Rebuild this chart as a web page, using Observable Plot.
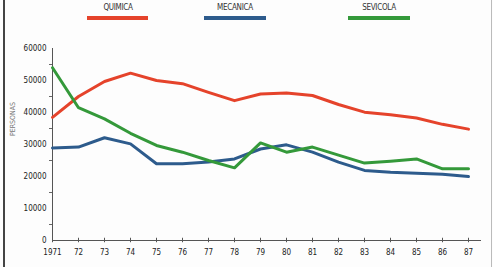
<!DOCTYPE html>
<html>
<head>
<meta charset="utf-8">
<script src="https://cdn.jsdelivr.net/npm/d3@7"></script>
<script src="https://cdn.jsdelivr.net/npm/@observablehq/plot@0.6"></script>
<style>
  body { margin: 0; background: #fff; }
  #wrap { position: relative; width: 493px; height: 267px; overflow: hidden; background: #fdfdfd; }
  #legend { position: relative; height: 30px; width: 493px; font-family: "Liberation Sans Narrow", "DejaVu Sans Condensed", sans-serif; font-size: 8px; color: #333; }
  .lab { position: absolute; top: 3px; transform: translateX(-50%); letter-spacing: -0.3px; }
  .sw { position: absolute; top: 16px; height: 4px; }
  #borderL { position: absolute; left: 3px; top: 0; width: 2px; height: 267px; background: #444; }
  #borderR { position: absolute; left: 491px; top: 0; width: 1px; height: 267px; background: #bbb; }
  #ylab { position: absolute; left: 13px; top: 119px; transform: translate(-50%, -50%) rotate(-90deg); font-family: "Liberation Sans Narrow", "DejaVu Sans Condensed", sans-serif; font-size: 7px; color: #777; white-space: nowrap; }
</style>
</head>
<body>
<div id="wrap">
  <div id="legend"></div>
  <div id="chart"></div>
  <div id="ylab">PERSONAS</div>
  <div id="borderL"></div>
  <div id="borderR"></div>
</div>
<script>
const years = [1971,1972,1973,1974,1975,1976,1977,1978,1979,1980,1981,1982,1983,1984,1985,1986,1987];
const yearLabels = ["1971","72","73","74","75","76","77","78","79","80","81","82","83","84","85","86","87"];
const quimica  = [38500,45000,49700,52300,50000,49000,46300,43700,45800,46100,45300,42500,40100,39300,38300,36300,34800];
const mecanica = [28900,29200,32100,30200,24000,24000,24500,25500,28600,29900,27600,24500,21900,21300,21000,20700,20000];
const sevicola = [54000,41500,38000,33500,29700,27600,25000,22700,30500,27600,29200,26700,24200,24800,25500,22400,22400];
const seriesNames = ["QUIMICA","MECANICA","SEVICOLA"];
const seriesColors = ["#e5432b","#2d5b8c","#34993a"];
const yTicks = [0,10000,20000,30000,40000,50000,60000];
const yMinor = [5000,15000,25000,35000,45000,55000];

const rows = [];
[quimica, mecanica, sevicola].forEach((arr, s) => {
  arr.forEach((v, i) => rows.push({year: years[i], value: v, serie: seriesNames[s]}));
});

// Legend
const legend = document.getElementById("legend");
const legendPos = [[118, 87, 61], [235, 204, 62], [379, 348, 62]];
seriesNames.forEach((n, i) => {
  const l = document.createElement("div");
  l.className = "lab"; l.style.left = legendPos[i][0] + "px"; l.textContent = n;
  legend.appendChild(l);
  const s = document.createElement("div");
  s.className = "sw"; s.style.left = legendPos[i][1] + "px"; s.style.width = legendPos[i][2] + "px";
  s.style.background = seriesColors[i];
  legend.appendChild(s);
});

const chart = Plot.plot({
  width: 493,
  height: 237,
  marginLeft: 52,
  marginRight: 25,
  marginTop: 18,
  marginBottom: 27,
  style: {fontFamily: "'Liberation Sans Narrow', 'DejaVu Sans Condensed', sans-serif", fontSize: "8px", color: "#222", background: "transparent"},
  x: {domain: [1971, 1987], label: null},
  y: {domain: [0, 60000], label: null},
  color: {domain: seriesNames, range: seriesColors},
  marks: [
    Plot.ruleY([0], {stroke: "#555", strokeWidth: 1, insetRight: -13}),
    Plot.ruleX([1971], {y1: 0, y2: 60000, stroke: "#555", strokeWidth: 1}),
    Plot.axisX(years, {tickSize: 0, tickPadding: 9, tickFormat: (d, i) => yearLabels[i], fill: "#222", label: null}),
    Plot.ruleX(years, {x: d => d, y1: () => -700, y2: () => 700, stroke: "#555"}),
    Plot.axisY(yTicks, {tickSize: 0, tickPadding: 6, tickFormat: d => String(d), fill: "#222", label: null}),
    Plot.axisY(yMinor, {tickSize: 3, tickFormat: () => "", stroke: "#666", label: null}),
    Plot.line(rows, {x: "year", y: "value", z: "serie", stroke: "serie", strokeWidth: 3, strokeLinejoin: "round"})
  ]
});
document.getElementById("chart").appendChild(chart);
</script>
</body>
</html>
